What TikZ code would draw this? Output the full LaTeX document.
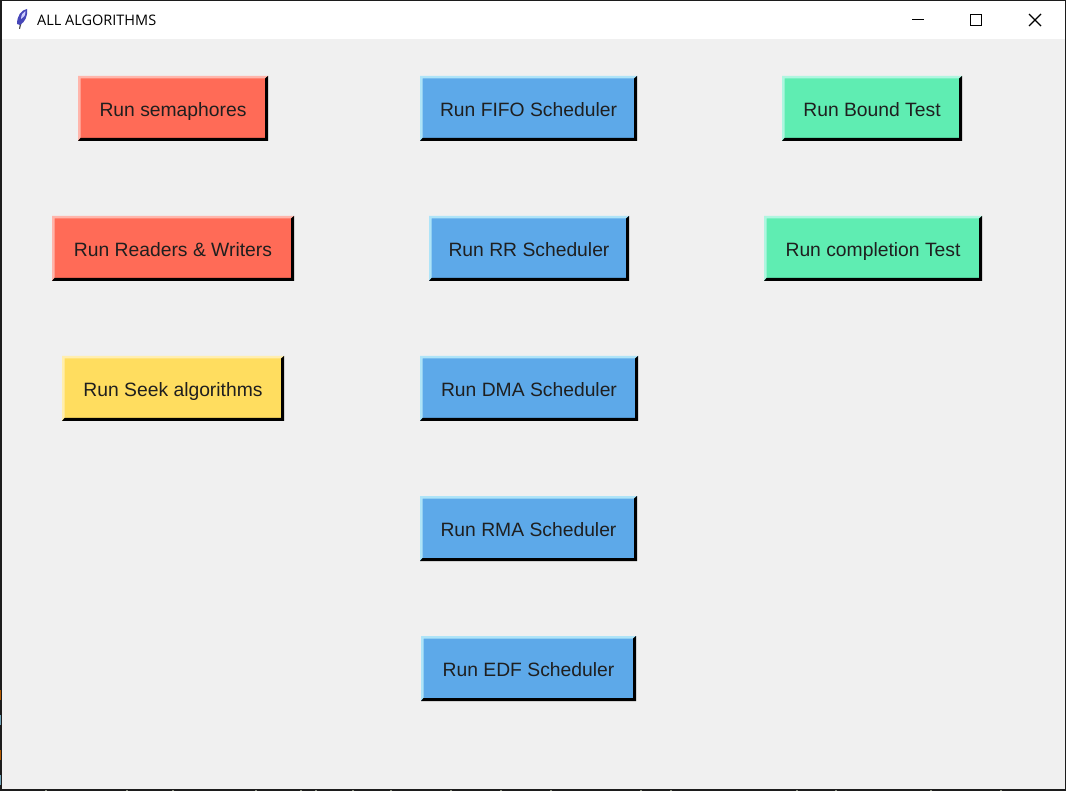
\documentclass[tikz,border=0pt]{standalone}
\usepackage{fontspec}
\setmainfont{Liberation Sans}
\newfontfamily\titlefont{Open Sans}
\definecolor{winbg}{HTML}{F0F0F0}
\definecolor{winedge}{HTML}{1C1C1C}
\definecolor{btnred}{HTML}{FF6B57}
\definecolor{btnredlt}{HTML}{FFB5AB}
\definecolor{btnblue}{HTML}{5DA9E9}
\definecolor{btnbluelt}{HTML}{AEE4F8}
\definecolor{btngreen}{HTML}{5FEDB2}
\definecolor{btngreenlt}{HTML}{AFF6E0}
\definecolor{btnyellow}{HTML}{FFDD5F}
\definecolor{btnyellowlt}{HTML}{FFEEAF}
\definecolor{deskspeck}{HTML}{8A8F80}
\tikzset{
  btntext/.style={font=\fontsize{19.3}{23}\selectfont,text=black!88,inner sep=0pt,anchor=base},
  wintitle/.style={font=\titlefont\fontsize{14.5}{17}\selectfont,anchor=west,inner sep=0pt},
  winglyph/.style={line width=1.2pt,black}
}
% #1 left, #2 right, #3 middle y, #4 fill, #5 light edge, #6 name, #7 text
\newcommand{\runbtn}[7]{
  \fill[#4] (#1,#3-32.5) rectangle (#2,#3+32.5);
  \fill[#5] (#1,#3+32.5) -- (#1,#3-32.5) -- (#2,#3-32.5) -- (#2-3,#3-30) -- (#1+2.5,#3-30) -- (#1+2.5,#3+29.5) -- cycle;
  \fill[black] (#1,#3+32.5) -- (#2,#3+32.5) -- (#2,#3-32.5) -- (#2-3,#3-30) -- (#2-3,#3+29.5) -- (#1+2.5,#3+29.5) -- cycle;
  \node[btntext] (#6) at ({(#1+#2)/2},#3+8) {#7};
}
\begin{document}
\begin{tikzpicture}[x=1pt,y=-1pt]
\useasboundingbox (0,0) rectangle (1066,791);
\fill[winedge] (0,0) rectangle (1066,791);
\fill[white] (2,1) rectangle (1065,39);
\fill[winbg] (2,39) rectangle (1065,789);
% what shows of the desktop behind
\foreach \x in {45,126,172,255,300,315,352,390,450,500,550,640,670,796,835,930,1000}{\fill[deskspeck] (\x,790) rectangle (\x+2,791);}
\foreach \y/\c in {690/orange!70!black,715/cyan!40!gray,750/orange!70!black,775/cyan!40!gray}{\fill[\c] (0,\y) rectangle (1,\y+10);}
% title bar
\fill[black!70] (20,23) -- (21.5,23.5) -- (20,29) -- (19,29) -- cycle;
\fill[blue!45!gray] (17,24) .. controls (17,16) and (21,10) .. (27,9) .. controls (28,16) and (25,22) .. (20,25) -- cycle;
\fill[blue!20!white] (21,19) .. controls (21,15) and (23,12) .. (25.5,11) .. controls (25.5,15) and (24,18) .. cycle;
\node[wintitle] (title) at (37,20) {ALL ALGORITHMS};
\draw[winglyph] (912,19.5) -- (924,19.5);
\draw[winglyph] (970.6,14.6) rectangle (981.4,25.4);
\draw[winglyph] (1029,14) -- (1041,26) (1041,14) -- (1029,26);
% left column
\runbtn{78}{268}{108.5}{btnred}{btnredlt}{semaphores}{Run semaphores}
\runbtn{52}{294}{248.5}{btnred}{btnredlt}{readers}{Run Readers \& Writers}
\runbtn{62}{284}{388.5}{btnyellow}{btnyellowlt}{seek}{Run Seek algorithms}
% schedulers
\runbtn{420}{637}{108.5}{btnblue}{btnbluelt}{fifo}{Run FIFO Scheduler}
\runbtn{429}{629}{248.5}{btnblue}{btnbluelt}{rr}{Run RR Scheduler}
\runbtn{420}{638}{388.5}{btnblue}{btnbluelt}{dma}{Run DMA Scheduler}
\runbtn{420}{637}{528.5}{btnblue}{btnbluelt}{rma}{Run RMA Scheduler}
\runbtn{421}{636}{668.5}{btnblue}{btnbluelt}{edf}{Run EDF Scheduler}
% tests
\runbtn{782}{962}{108.5}{btngreen}{btngreenlt}{bound}{Run Bound Test}
\runbtn{764}{982}{248.5}{btngreen}{btngreenlt}{completion}{Run completion Test}
\end{tikzpicture}
\end{document}
